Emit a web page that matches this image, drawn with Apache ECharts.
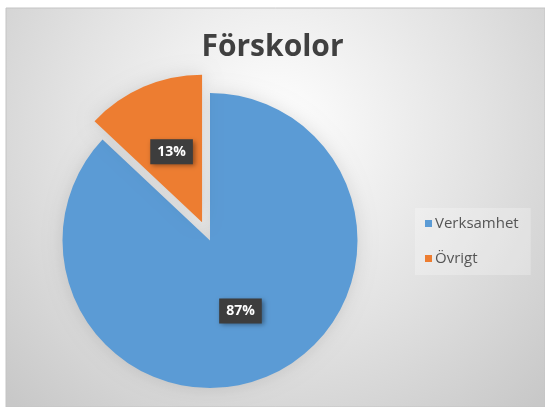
<!DOCTYPE html>
<html>
<head>
<meta charset="utf-8">
<script src="https://cdn.jsdelivr.net/npm/echarts@6/dist/echarts.min.js"></script>
<style>
  html, body { margin: 0; padding: 0; background: #fff; }
  #chart { width: 545px; height: 407px; }
</style>
</head>
<body>
<div id="chart"></div>
<script>
  // pie data (percent)
  const categories = ['Verksamhet', 'Övrigt']
  const values = [87, 13]
  const colors = ['#5b9bd5', '#ed7d31']
  const exploded = ['Övrigt']

  const chart = echarts.init(document.getElementById('chart'))

  const pieData = categories.map((name, i) => ({
    name,
    value: values[i],
    selected: exploded.includes(name),
    itemStyle: { color: colors[i] }
  }))

  chart.setOption({
    animation: false,
    graphic: [
      {
        type: 'rect',
        z: -10,
        silent: true,
        shape: { x: 6, y: 8, width: 539, height: 399 },
        style: {
          fill: new echarts.graphic.RadialGradient(0.5, 0.3, 0.95, [
            { offset: 0, color: '#ffffff' },
            { offset: 0.55, color: '#e2e2e2' },
            { offset: 1, color: '#c8c8c8' }
          ]),
          stroke: '#c4c4c4',
          lineWidth: 1
        }
      }
    ],
    title: {
      text: 'Förskolor',
      left: 'center',
      top: 27,
      textStyle: {
        fontFamily: 'Open Sans',
        fontWeight: 'bold',
        fontSize: 30,
        color: '#404040'
      }
    },
    legend: {
      orient: 'vertical',
      left: 415,
      top: 208,
      padding: [8, 12, 9, 10],
      itemGap: 20,
      itemWidth: 7,
      itemHeight: 7,
      icon: 'rect',
      backgroundColor: 'rgba(255,255,255,0.25)',
      selectedMode: false,
      data: categories,
      textStyle: {
        fontFamily: 'Open Sans',
        fontSize: 15,
        color: '#555555',
        padding: [0, 0, 0, -2]
      }
    },
    series: [
      {
        type: 'pie',
        center: [210, 240.5],
        radius: 147.5,
        startAngle: 90,
        clockwise: true,
        selectedMode: 'single',
        selectedOffset: 20,
        emphasis: { disabled: true },
        itemStyle: {
          shadowBlur: 18,
          shadowColor: 'rgba(0,0,0,0.12)'
        },
        label: {
          position: 'inside',
          formatter: '{c}%',
          fontFamily: 'Open Sans',
          fontWeight: 'bold',
          fontSize: 14,
          color: '#ffffff',
          backgroundColor: '#3d3d3d',
          padding: [6, 7, 5, 7],
          shadowBlur: 5,
          shadowOffsetX: 2,
          shadowOffsetY: 2,
          shadowColor: 'rgba(0,0,0,0.4)'
        },
        labelLine: { show: false },
        data: pieData
      }
    ]
  })
</script>
</body>
</html>
